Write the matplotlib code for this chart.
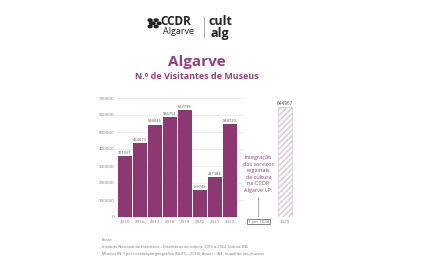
import matplotlib.pyplot as plt
from matplotlib.patches import Circle

years = ["2015", "2016", "2017", "2018", "2019", "2020", "2021", "2022"]
visitors = [361037, 434073, 544045, 586752, 627795, 159743, 237384, 544720]
target_year = "2029"
target_value = 644967
y_ticks = [0, 100000, 200000, 300000, 400000, 500000, 600000, 700000]
note_lines = ["Integração", "dos serviços", "regionais", "de cultura", "na CCDR", "Algarve I.P."]
note_date = "1 jan 2024"
source_lines = [
    "Fonte:",
    "Instituto Nacional de Estatística – Estatísticas da cultura: 2015 a 2022. Lisboa: INE",
    "Museus (N.º) por Localização geográfica (NUTS – 2013); Anual – INE, Inquérito aos museus",
]

purple = "#8d3873"
title_purple = "#94417f"
grey = "#7a7a7a"

plt.rcParams["font.family"] = ["Open Sans", "DejaVu Sans"]

fig = plt.figure(figsize=(4.3, 2.65), dpi=100)
fig.patch.set_facecolor("white")

# logos at the top
fig.text(0.373, 0.917, "CCDR", fontsize=8.5, fontweight="bold", ha="left", va="center", color="#222222")
fig.text(0.38, 0.88, "Algarve", fontsize=6.5, ha="left", va="center", color="#222222")
for dx, dy in [(0, 0), (0.007, 0.012), (-0.007, 0.012), (0.007, -0.012), (-0.007, -0.012), (0.014, 0), (-0.004, 0)]:
    fig.patches.append(Circle((0.356 + dx, 0.912 + dy), 0.0045, transform=fig.transFigure, color="#222222"))
fig.add_artist(plt.Line2D([0.474, 0.474], [0.86, 0.936], transform=fig.transFigure, color="#999999", lw=0.6))
fig.text(0.484, 0.92, "cult", fontsize=9, fontweight="bold", ha="left", va="center", color="#222222")
fig.text(0.49, 0.872, "alg", fontsize=9, fontweight="bold", ha="left", va="center", color="#222222")

fig.text(0.458, 0.766, "Algarve", fontsize=11, fontweight="bold", ha="center", va="center", color=title_purple)
fig.text(0.458, 0.71, "N.º de Visitantes de Museus", fontsize=6.5, fontweight="bold", ha="center", va="center",
         color=title_purple)

ax = fig.add_axes([117 / 430, 1 - 217 / 265, (300 - 117) / 430, (217 - 98) / 265])
ax.set_xlim(-0.53, 11.67)
ax.set_ylim(0, 700000)

x = list(range(len(years)))
ax.hlines(y_ticks[1:], -0.53, 7.9, color="#e6e6e6", lw=0.5, zorder=0)
ax.bar(x, visitors, width=0.88, color=purple, zorder=2)
for xi, v in zip(x, visitors):
    ax.text(xi, v + 6000, str(v), fontsize=2.8, ha="center", va="bottom", color="#555555")

target_x = 10.67
ax.bar([target_x], [target_value], width=0.9, color="white", edgecolor="#dcc6d6", hatch="//////", lw=0.5,
       zorder=2)
ax.text(target_x, target_value + 6000, str(target_value), fontsize=3.3, ha="center", va="bottom", color="#555555")

note_x = 8.9
ax.text(note_x, 365000, "\n".join(note_lines), fontsize=4, ha="center", va="top", color=title_purple,
        linespacing=1.4)
ax.plot([note_x, note_x], [0, 115000], color="#888888", lw=0.5)

ax.set_xticks(x + [note_x, target_x])
ax.set_xticklabels(years + [note_date, target_year], fontsize=3.2, color=grey)
ax.get_xticklabels()[-2].set_bbox(dict(boxstyle="square,pad=0.15", fc="white", ec="#555555", lw=0.5))
ax.set_yticks(y_ticks)
ax.set_yticklabels([str(t) for t in y_ticks], fontsize=3.2, color=grey)
ax.tick_params(length=0, pad=2)
for s in ax.spines.values():
    s.set_visible(False)

for i, line in enumerate(source_lines):
    fig.text(102 / 430, 1 - (240 + i * 7) / 265, line, fontsize=2.8, ha="left", va="center", color="#777777")

fig.savefig("out.png", dpi=100, facecolor="white")
